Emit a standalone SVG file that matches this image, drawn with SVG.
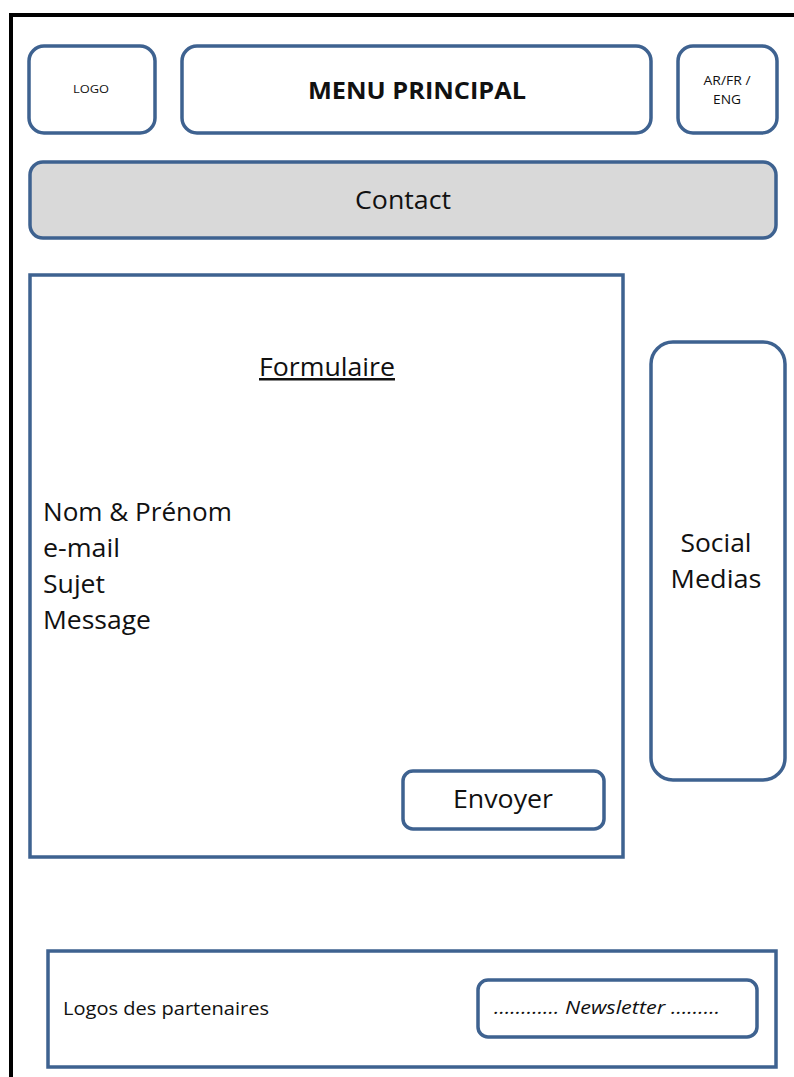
<svg xmlns="http://www.w3.org/2000/svg" width="794" height="1077" viewBox="0 0 794 1077">
<style>
.b{fill:#fff;stroke:#3e6290;stroke-width:3.5}
.g{fill:#d9d9d9;stroke:#3e6290;stroke-width:3.5}
.t{font-family:"Open Sans","Liberation Sans",sans-serif;fill:#111}
</style>
<rect width="794" height="1077" fill="#fff"/>
<g id="frame"><path d="M11 1077 V15 H794" fill="none" stroke="#000" stroke-width="4"/></g>
<g id="logo"><rect class="b" x="29" y="46" width="126" height="87" rx="15"/><text class="t" x="91" y="93" font-size="11" text-anchor="middle" textLength="36" lengthAdjust="spacingAndGlyphs">LOGO</text></g>
<g id="menu"><rect class="b" x="182" y="46" width="469" height="87" rx="15"/><text class="t" x="417" y="99" font-size="24" font-weight="bold" text-anchor="middle" textLength="218" lengthAdjust="spacingAndGlyphs">MENU PRINCIPAL</text></g>
<g id="lang"><rect class="b" x="678" y="46" width="99" height="87" rx="15"/><text class="t" x="727" y="85" font-size="12" text-anchor="middle" textLength="47" lengthAdjust="spacingAndGlyphs">AR/FR /</text><text class="t" x="727" y="104" font-size="12" text-anchor="middle" textLength="28" lengthAdjust="spacingAndGlyphs">ENG</text></g>
<g id="contact"><rect class="g" x="30" y="162" width="746" height="76" rx="13"/><text class="t" x="403" y="209" font-size="25" text-anchor="middle" textLength="96" lengthAdjust="spacingAndGlyphs">Contact</text></g>
<g id="form"><rect class="b" x="30" y="275" width="593" height="582"/>
<text class="t" x="327" y="376" font-size="25" text-anchor="middle" text-decoration="underline" textLength="136" lengthAdjust="spacingAndGlyphs">Formulaire</text>
<text class="t" x="43" y="521" font-size="25" textLength="189" lengthAdjust="spacingAndGlyphs">Nom &amp; Prénom</text>
<text class="t" x="43" y="557" font-size="25" textLength="77" lengthAdjust="spacingAndGlyphs">e-mail</text>
<text class="t" x="43" y="593" font-size="25" textLength="62" lengthAdjust="spacingAndGlyphs">Sujet</text>
<text class="t" x="43" y="629" font-size="25" textLength="108" lengthAdjust="spacingAndGlyphs">Message</text></g>
<g id="envoyer"><rect class="b" x="403" y="771" width="201" height="58" rx="10"/><text class="t" x="503" y="808" font-size="25" text-anchor="middle" textLength="100" lengthAdjust="spacingAndGlyphs">Envoyer</text></g>
<g id="social"><rect class="b" x="651" y="342" width="134" height="438" rx="22"/><text class="t" x="716" y="552" font-size="25" text-anchor="middle" textLength="71" lengthAdjust="spacingAndGlyphs">Social</text><text class="t" x="716" y="588" font-size="25" text-anchor="middle" textLength="91" lengthAdjust="spacingAndGlyphs">Medias</text></g>
<g id="footer"><rect class="b" x="48" y="951" width="728" height="116"/><text class="t" x="63" y="1015" font-size="19" textLength="206" lengthAdjust="spacingAndGlyphs">Logos des partenaires</text></g>
<g id="newsletter"><rect class="b" x="478" y="980" width="279" height="57" rx="10"/><text class="t" x="494" y="1014" font-size="19" font-style="italic" textLength="226" lengthAdjust="spacingAndGlyphs">………… Newsletter ………</text></g>
<g id="connectors"/>
</svg>
